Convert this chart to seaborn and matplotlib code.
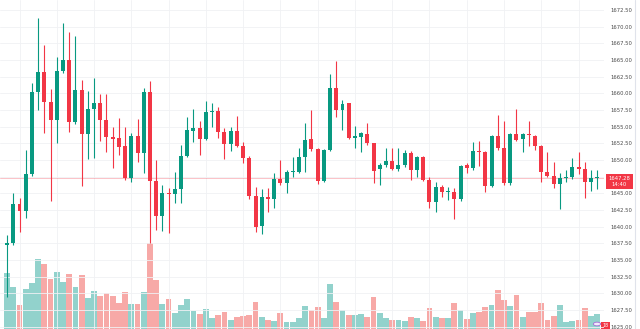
import numpy as np
import pandas as pd
import matplotlib
matplotlib.use("Agg")
import matplotlib.pyplot as plt
from matplotlib.patches import Rectangle, Circle
from matplotlib.lines import Line2D
import seaborn as sns

# OHLC per bar (oldest first)
opens = [1637.3, 1637.6, 1643.4, 1642.3, 1647.9, 1660.2, 1663.2, 1658.7, 1656.0, 1663.3,
         1665.0, 1655.7, 1660.5, 1653.9, 1657.6, 1658.6, 1656.0, 1653.5, 1653.3, 1652.1,
         1647.3, 1653.6, 1651.0, 1660.25, 1646.9, 1641.6, 1645.0, 1644.9, 1645.6, 1650.6,
         1654.4, 1654.8, 1653.2, 1657.2, 1657.3, 1654.2, 1652.4, 1654.4, 1652.1, 1650.35,
         1644.65, 1640.15, 1644.5, 1644.15, 1647.15, 1646.5, 1648.25, 1648.25, 1650.5, 1653.1,
         1651.6, 1646.9, 1651.5, 1660.85, 1657.5, 1658.5, 1653.35, 1653.5, 1653.9, 1652.5,
         1648.6, 1649.25, 1649.85, 1648.65, 1649.25, 1651.0, 1648.5, 1650.4, 1647.0, 1643.75,
         1646.0, 1645.15, 1645.25, 1644.1, 1649.25, 1648.75, 1651.35, 1651.25, 1646.15, 1653.65,
         1651.75, 1646.5, 1653.9, 1653.15, 1653.9, 1653.65, 1652.15, 1648.25, 1647.65, 1646.35,
         1647.25, 1647.4, 1649.0, 1648.65, 1646.65, 1647.25]
highs = [1638.8, 1645.0, 1644.35, 1651.5, 1661.5, 1671.3, 1667.3, 1660.6, 1665.5, 1670.5,
         1669.15, 1668.6, 1662.0, 1660.35, 1662.35, 1659.85, 1659.85, 1655.0, 1656.25, 1655.0,
         1654.1, 1656.15, 1660.75, 1661.8, 1650.0, 1646.3, 1645.75, 1648.15, 1652.25, 1656.5,
         1657.65, 1655.85, 1658.85, 1658.5, 1658.0, 1654.75, 1655.0, 1656.65, 1652.75, 1650.6,
         1646.0, 1645.65, 1645.75, 1648.0, 1650.0, 1648.5, 1650.5, 1651.75, 1655.5, 1657.5,
         1651.8, 1651.7, 1662.85, 1664.85, 1659.0, 1658.6, 1655.1, 1654.2, 1655.5, 1652.6,
         1649.5, 1651.85, 1651.85, 1651.85, 1651.5, 1651.3, 1650.6, 1650.6, 1647.5, 1646.75,
         1646.3, 1646.0, 1645.75, 1649.3, 1649.6, 1652.75, 1652.85, 1651.4, 1653.8, 1656.75,
         1655.85, 1654.0, 1657.65, 1654.0, 1655.85, 1653.8, 1652.3, 1651.25, 1649.75, 1648.0,
         1648.5, 1650.35, 1651.25, 1649.75, 1648.5, 1648.5]
lows = [1629.5, 1637.3, 1639.25, 1641.3, 1647.6, 1657.5, 1654.0, 1643.85, 1652.5, 1663.0,
        1654.25, 1655.4, 1646.15, 1650.15, 1650.35, 1652.85, 1651.25, 1648.85, 1650.75, 1647.0,
        1646.7, 1649.75, 1648.0, 1637.5, 1639.5, 1639.4, 1639.0, 1643.5, 1643.5, 1650.4,
        1652.65, 1650.75, 1653.0, 1655.0, 1653.25, 1650.15, 1651.3, 1651.9, 1649.5, 1644.2,
        1639.25, 1638.85, 1642.25, 1642.85, 1646.3, 1645.0, 1647.5, 1648.0, 1648.25, 1651.4,
        1646.35, 1646.7, 1651.3, 1656.5, 1654.5, 1653.1, 1651.85, 1651.2, 1652.3, 1646.5,
        1646.25, 1649.0, 1648.5, 1648.4, 1649.0, 1647.0, 1647.5, 1646.8, 1642.75, 1642.25,
        1644.5, 1644.0, 1641.15, 1643.9, 1648.0, 1648.5, 1649.15, 1645.15, 1646.0, 1651.5,
        1646.3, 1646.3, 1652.8, 1651.25, 1652.15, 1651.5, 1646.65, 1647.4, 1645.75, 1642.65,
        1646.7, 1647.2, 1647.85, 1644.35, 1645.3, 1645.6]
closes = [1637.6, 1643.4, 1642.3, 1647.9, 1660.2, 1663.2, 1658.7, 1656.0, 1663.3, 1665.0,
          1655.7, 1660.5, 1653.9, 1657.6, 1658.6, 1656.0, 1653.5, 1653.2, 1652.0, 1647.3,
          1653.6, 1651.0, 1660.25, 1646.9, 1641.6, 1645.0, 1644.9, 1645.6, 1650.6, 1654.5,
          1654.8, 1653.2, 1657.2, 1657.35, 1654.2, 1652.4, 1654.4, 1652.1, 1650.35, 1644.65,
          1640.0, 1644.5, 1644.15, 1647.15, 1646.5, 1648.25, 1648.4, 1650.5, 1653.0, 1651.65,
          1646.9, 1651.5, 1660.85, 1657.5, 1658.35, 1653.35, 1653.6, 1654.0, 1652.5, 1648.4,
          1649.25, 1649.85, 1648.65, 1649.25, 1651.0, 1648.5, 1650.4, 1647.0, 1643.75, 1646.0,
          1645.15, 1645.3, 1644.1, 1649.15, 1648.75, 1651.35, 1651.25, 1646.15, 1653.65, 1651.75,
          1646.5, 1653.9, 1653.0, 1653.9, 1653.7, 1652.15, 1648.25, 1647.65, 1646.35, 1647.25,
          1647.4, 1649.0, 1648.65, 1646.65, 1647.25, 1647.28]
volumes = [5630, 4170, 2400, 3970, 4570, 7000, 6500, 5000, 5700, 4670,
           5530, 4230, 5400, 3130, 3800, 3300, 3630, 3300, 2570, 3700,
           2470, 2470, 3700, 8570, 4900, 2500, 3000, 1630, 2370, 3000,
           1800, 1530, 1970, 1130, 1370, 1700, 900, 1230, 1300, 1430,
           2700, 1230, 870, 770, 1570, 730, 730, 1070, 2300, 1900,
           2170, 1130, 4470, 2670, 1870, 1400, 1400, 1500, 1230, 3230,
           1570, 1070, 900, 900, 830, 1230, 1130, 770, 2070, 1230,
           1130, 1070, 2630, 1900, 1000, 1630, 1730, 2230, 2400, 3900,
           2900, 2330, 3400, 1170, 1730, 1730, 2570, 900, 1330, 2400,
           730, 830, 900, 2130, 1300, 1470]

price_ticks = [1625.0, 1627.5, 1630.0, 1632.5, 1635.0, 1637.5, 1640.0, 1642.5, 1645.0,
               1647.5, 1650.0, 1652.5, 1655.0, 1657.5, 1660.0, 1662.5, 1665.0, 1667.5,
               1670.0, 1672.5]
last_price = 1647.28
last_time = "14:40"
countdown = "18"

UP, DOWN = "#089981", "#f23645"
UP_VOL, DOWN_VOL = "#92d2cc", "#f7a9a7"

sns.set_theme(style="white")
plt.rcParams["font.family"] = ["DejaVu Sans"]

df = pd.DataFrame({"bar": np.arange(len(opens)), "open": opens, "high": highs,
                   "low": lows, "close": closes, "volume": volumes})
df["dir"] = np.where(df["close"] >= df["open"], "up", "down")

W, H = 640, 329
fig = plt.figure(figsize=(W / 100, H / 100), dpi=100)
fig.patch.set_facecolor("white")
ax = fig.add_axes([0, 0, 604 / W, 1])
axv = ax.twinx()
ax.set_zorder(axv.get_zorder() + 1)
ax.patch.set_visible(False)

# volume histogram on its own scale
sns.barplot(data=df, x="bar", y="volume", hue="dir",
            palette={"up": UP_VOL, "down": DOWN_VOL}, native_scale=True,
            dodge=False, width=0.93, saturation=1, linewidth=0, legend=False, ax=axv)
axv.set_ylim(0, 32900)
axv.set_yticks([])
axv.set_ylabel("")
axv.set_xlabel("")

# candles
col = np.where(df["dir"] == "up", UP, DOWN)
ax.vlines(df["bar"], df["low"], df["high"], colors=col, linewidth=0.8, zorder=3)
body_lo = np.minimum(df["open"], df["close"])
body_h = np.maximum((df["close"] - df["open"]).abs(), 0.15)
ax.bar(df["bar"], body_h, bottom=body_lo, width=0.64, color=col, linewidth=0, zorder=4)

ax.axhline(last_price, color=DOWN, lw=0.7, alpha=0.3, zorder=2)

ax.set_xlim(-1.14, 96.1)
ax.set_ylim(1624.66, 1674.0)
ax.set_yticks(price_ticks)
# the level under the last-price tag carries no label
ax.set_yticklabels(["" if abs(v - last_price) < 1.0 else f"{v:.2f}" for v in price_ticks])
ax.yaxis.tick_right()
ax.set_xticks(range(2, 96, 6))
ax.tick_params(axis="x", labelbottom=False, length=0)
ax.tick_params(axis="y", length=0, pad=4.5, labelsize=3.8, labelcolor="#4a4a4a")
ax.grid(True, color="#f0f1f4", lw=0.6, zorder=0)
ax.set_axisbelow(True)
ax.set_xlabel("")
ax.set_ylabel("")
for a in (ax, axv):
    for s in a.spines.values():
        s.set_visible(False)

# last price tag on the price scale
fig.add_artist(Rectangle((606 / W, 1 - 189 / H), 27 / W, 15 / H, transform=fig.transFigure,
                         facecolor=DOWN, edgecolor="none"))
fig.text(619.5 / W, 1 - 178 / H, f"{last_price:.2f}", ha="center", va="center",
         color="white", fontsize=3.8)
fig.text(619.5 / W, 1 - 184.8 / H, last_time, ha="center", va="center",
         color="white", fontsize=3.8)

# bottom-right badges
fig.add_artist(Circle((597 / W, 1 - 324 / H), 3.6 / W, transform=fig.transFigure,
                      facecolor="#f3e8fb", edgecolor="#a36bd6", lw=0.6))
fig.add_artist(Rectangle((601 / W, 0), 9 / W, 7 / H, transform=fig.transFigure,
                         facecolor=DOWN, edgecolor="none"))
fig.text(605.5 / W, 3.5 / H, countdown, ha="center", va="center", color="white", fontsize=3.4)

fig.add_artist(Line2D([635 / W, 635 / W], [0, 1], transform=fig.transFigure,
                      color="#e0e3eb", lw=0.8))

fig.savefig("out.png", dpi=100, facecolor="white")
